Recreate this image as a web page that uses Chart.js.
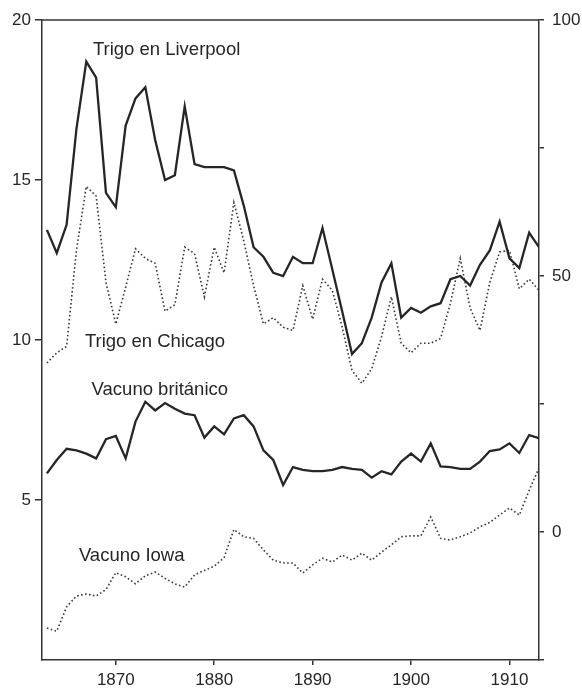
<!DOCTYPE html>
<html><head><meta charset="utf-8">
<script src="https://cdn.jsdelivr.net/npm/chart.js@4"></script>
<style>html,body{margin:0;padding:0;background:#fff;overflow:hidden}#wrap{width:582px;height:689px}</style>
</head><body><div id="wrap"><canvas id="c" width="582" height="689"></canvas></div>
<script>
const years = [1863,1864,1865,1866,1867,1868,1869,1870,1871,1872,
  1873,1874,1875,1876,1877,1878,1879,1880,1881,1882,
  1883,1884,1885,1886,1887,1888,1889,1890,1891,1892,
  1893,1894,1895,1896,1897,1898,1899,1900,1901,1902,
  1903,1904,1905,1906,1907,1908,1909,1910,1911,1912,1913];
const trigoLiverpool = [13.44,12.72,13.6,16.6,18.7,18.2,14.6,14.15,16.7,17.55,
  17.9,16.25,15.0,15.15,17.3,15.5,15.4,15.4,15.4,15.3,
  14.2,12.9,12.6,12.1,12.0,12.6,12.4,12.4,13.5,12.2,
  10.9,9.56,9.9,10.7,11.8,12.4,10.7,11.0,10.85,11.05,
  11.15,11.9,12.0,11.7,12.35,12.8,13.7,12.55,12.25,13.35,12.9];
const trigoChicago = [9.28,9.6,9.8,12.8,14.8,14.5,11.8,10.5,11.65,12.85,
  12.55,12.4,10.9,11.1,12.9,12.7,11.35,12.9,12.1,14.3,
  13.1,11.7,10.5,10.7,10.4,10.3,11.7,10.65,11.9,11.55,
  10.4,9.05,8.65,9.1,10.1,11.35,9.9,9.6,9.9,9.9,
  10.05,11.15,12.55,11.0,10.3,11.8,12.75,12.8,11.6,11.9,11.55];
const vacunoBritanico = [5.83,6.25,6.6,6.55,6.45,6.3,6.9,7.0,6.3,7.45,
  8.07,7.8,8.03,7.85,7.7,7.65,6.95,7.3,7.05,7.55,
  7.65,7.3,6.55,6.25,5.47,6.03,5.94,5.9,5.9,5.94,
  6.03,5.97,5.94,5.7,5.9,5.8,6.2,6.45,6.2,6.77,
  6.05,6.03,5.97,5.97,6.2,6.53,6.58,6.77,6.47,7.03,6.93];
const vacunoIowa = [1.0,0.9,1.66,2.0,2.06,2.0,2.2,2.73,2.6,2.38,
  2.63,2.75,2.55,2.38,2.28,2.66,2.8,2.93,3.2,4.08,
  3.85,3.8,3.44,3.12,3.03,3.03,2.72,2.97,3.18,3.06,
  3.28,3.12,3.34,3.12,3.37,3.6,3.85,3.88,3.88,4.47,
  3.8,3.75,3.85,3.97,4.16,4.3,4.53,4.75,4.53,5.3,6.0];
const xTickLabels = [1870,1880,1890,1900,1910];
const leftTickLabels = [5,10,15,20];
const rightTickLabels = [0,50,100];
const seriesNames = ['Trigo en Liverpool','Trigo en Chicago','Vacuno británico','Vacuno Iowa'];
// label anchor (data units: year, left-axis value)
const labelAnchors = [[1867.67,18.9],[1866.86,9.79],[1867.54,8.28],[1866.25,3.10]];

const pts = arr => years.map((yr,i)=>({x:yr,y:arr[i]}));
const INK = '#262626';
const FONT = '"Liberation Sans", Arial, Helvetica, sans-serif';

const framePlugin = {
  id:'frame',
  afterDraw(chart){
    const {ctx, chartArea:a, scales} = chart;
    ctx.save();
    ctx.strokeStyle = '#333'; ctx.lineWidth = 1.5;
    ctx.beginPath(); ctx.moveTo(a.left, a.top); ctx.lineTo(a.right, a.top); ctx.stroke();
    ctx.fillStyle = INK;
    ctx.font = '18.5px ' + FONT;
    ctx.textAlign = 'left'; ctx.textBaseline = 'alphabetic';
    seriesNames.forEach((t,i)=>{
      ctx.fillText(t, scales.x.getPixelForValue(labelAnchors[i][0]), scales.y.getPixelForValue(labelAnchors[i][1]));
    });
    ctx.restore();
  }
};

const solid = (label, arr) => ({label, data: pts(arr), borderColor: INK, borderWidth: 2.3, pointRadius: 0, tension: 0, yAxisID:'y', fill:false});
const dotted = (label, arr) => ({label, data: pts(arr), borderColor: '#3a3a3a', borderWidth: 1.6, borderDash:[1.6,2.4], borderCapStyle:'butt', pointRadius: 0, tension: 0, yAxisID:'y', fill:false});

new Chart(document.getElementById('c'), {
  type:'line',
  data:{datasets:[
    solid(seriesNames[0], trigoLiverpool),
    dotted(seriesNames[1], trigoChicago),
    solid(seriesNames[2], vacunoBritanico),
    dotted(seriesNames[3], vacunoIowa)
  ]},
  options:{
    responsive:false, animation:false, devicePixelRatio:1,
    layout:{padding:{top:20,left:0,right:0,bottom:0}},
    plugins:{legend:{display:false}, tooltip:{enabled:false}},
    scales:{
      x:{type:'linear', position:'bottom', min:1862.5, max:1913,
        afterBuildTicks:s=>{s.ticks = xTickLabels.map(v=>({value:v}));},
        afterFit:s=>{s.height = 29;},
        ticks:{font:{size:17, family:FONT}, color:INK, padding:5, maxRotation:0, autoSkip:false, callback:v=>String(v)},
        grid:{drawOnChartArea:false, tickLength:5, color:'#333', lineWidth:1.5},
        border:{color:'#333', width:1.5}
      },
      y:{type:'linear', position:'left', min:0, max:20,
        afterBuildTicks:s=>{s.ticks = leftTickLabels.map(v=>({value:v}));},
        afterFit:s=>{s.width = 42;},
        ticks:{font:{size:17, family:FONT}, color:INK, padding:4, callback:v=>String(v)},
        grid:{drawOnChartArea:false, tickLength:7, color:'#333', lineWidth:1.5},
        border:{color:'#333', width:1.5}
      },
      y2:{type:'linear', position:'right', min:-25, max:100,
        ticks:{stepSize:25, font:{size:17, family:FONT}, color:INK, padding:8,
          callback:v=> rightTickLabels.includes(v) ? String(v) : ''},
        afterFit:s=>{s.width = 43;},
        grid:{drawOnChartArea:false, tickLength:5, color:'#333', lineWidth:1.5},
        border:{color:'#333', width:1.5}
      }
    }
  },
  plugins:[framePlugin]
});
</script></body></html>
